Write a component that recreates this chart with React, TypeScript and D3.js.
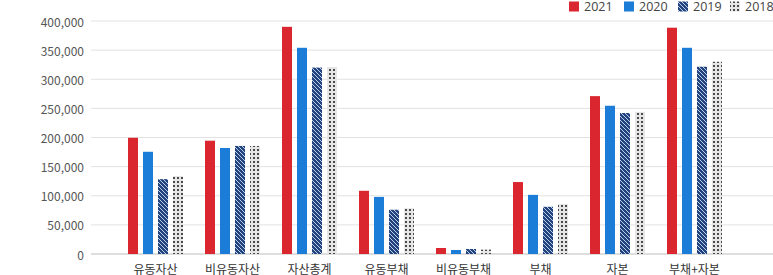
import React from "react";
import * as d3 from "d3";

const categories = ["유동자산", "비유동자산", "자산총계", "유동부채", "비유동부채", "부채", "자본", "부채+자본"];
const seriesNames = ["2021", "2020", "2019", "2018"];
const values2021 = [199500, 194500, 390000, 108500, 10300, 123500, 271000, 388500];
const values2020 = [175500, 182000, 354000, 98000, 6900, 101500, 254500, 354000];
const values2019 = [128500, 185500, 320000, 76000, 8600, 81000, 242000, 321500];
const values2018 = [134000, 185500, 321000, 78500, 7500, 86000, 244000, 330000];
const yTicks = [0, 50000, 100000, 150000, 200000, 250000, 300000, 350000, 400000];

const seriesValues = [values2021, values2020, values2019, values2018];
const fills = ["#da262e", "#1c7dd8", "url(#pat2019)", "url(#pat2018)"];

export default function App() {
  const W = 773;
  const H = 275;
  const y = d3.scaleLinear().domain([0, 400000]).range([254, 21]);
  const x = d3.scaleBand<string>().domain(categories).range([117, 733]).paddingInner(0).paddingOuter(0);
  const inner = d3.scaleBand<string>().domain(seriesNames).range([0, 55]).paddingInner(1 / 3).paddingOuter(0);
  const fmt = d3.format(",");
  const font = "'Noto Sans CJK KR', 'Noto Sans', sans-serif";
  const gx0 = 91;
  const gx1 = 773;
  const legendX = [569, 624, 678, 730];

  return (
    <svg width={W} height={H} style={{ position: "absolute", left: 0, top: 0, fontFamily: font }}>
      <defs>
        <pattern id="pat2019" patternUnits="userSpaceOnUse" width="4" height="4">
          <rect width="4" height="4" fill="#22437d" />
          <path d="M-1,-1 L5,5 M-1,3 L1,5 M3,-1 L5,1" stroke="#cfe0f5" strokeWidth="0.9" />
        </pattern>
        <pattern id="pat2018" patternUnits="userSpaceOnUse" width="4" height="4">
          <rect width="4" height="4" fill="#e6e6e6" />
          <rect x="1" y="1" width="2" height="2" fill="#4a4a4a" />
        </pattern>
      </defs>
      {yTicks.map((t) => (
        <g key={t}>
          <line x1={gx0} x2={gx1} y1={y(t)} y2={y(t)} stroke={t === 0 ? "#bdbdbd" : "#e2e2e2"} strokeWidth={1} />
          <text x={84} y={y(t)} textAnchor="end" dominantBaseline="central" fontSize={12} fill="#555">
            {fmt(t)}
          </text>
        </g>
      ))}
      {categories.map((c, i) => (
        <g key={c}>
          {seriesNames.map((s, j) => {
            const v = seriesValues[j][i];
            const bx = (x(c) as number) + x.bandwidth() / 2 - 27.5 + (inner(s) as number);
            return (
              <rect key={s} x={bx} y={y(v)} width={inner.bandwidth()} height={y(0) - y(v)} fill={fills[j]} />
            );
          })}
          <text
            x={(x(c) as number) + x.bandwidth() / 2}
            y={268}
            textAnchor="middle"
            dominantBaseline="central"
            fontSize={12}
            fill="#333"
          >
            {c}
          </text>
        </g>
      ))}
      {seriesNames.map((s, j) => (
        <g key={s}>
          <rect x={legendX[j]} y={1.5} width={10} height={10} fill={fills[j]} />
          <text x={legendX[j] + 15} y={11} fontSize={12.5} fill="#444" fontFamily="'Open Sans', sans-serif">
            {s}
          </text>
        </g>
      ))}
    </svg>
  );
}
